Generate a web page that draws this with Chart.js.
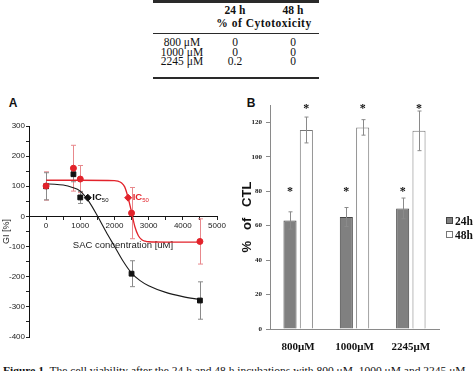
<!DOCTYPE html>
<html><head><meta charset="utf-8">
<script src="https://cdn.jsdelivr.net/npm/chart.js@4.4.1/dist/chart.umd.min.js"></script>
<style>
html,body{margin:0;padding:0;background:#fff;width:474px;height:371px;overflow:hidden;position:relative;}
.t{position:absolute;transform:translate(-50%,-50%);white-space:nowrap;line-height:1;font-family:"Liberation Serif","Times New Roman",serif;color:#111;font-size:11.5px;}
.b{font-weight:bold;}
.rule{position:absolute;background:#2a2a2a;}
.panel{position:absolute;font-family:"Liberation Sans",Arial,sans-serif;font-weight:bold;font-size:12px;line-height:1;transform:translate(-50%,-50%);color:#111;}
.leg{position:absolute;font-family:"Liberation Serif",serif;font-weight:bold;font-size:11.5px;line-height:1;color:#111;white-space:nowrap;}
.leg span{display:inline-block;width:5px;height:5px;border:1px solid #666;margin-right:2px;vertical-align:1px;}
#cap{position:absolute;left:3px;top:364.5px;font-family:"Liberation Serif",serif;font-size:11px;line-height:11px;white-space:nowrap;color:#111;transform-origin:0 0;}
canvas{position:absolute;}
</style></head><body>
<div class="rule" style="left:153px;top:0;width:166px;height:3px"></div>
<div class="rule" style="left:153px;top:33px;width:166px;height:1px"></div>
<div class="rule" style="left:153px;top:77px;width:166px;height:1.5px"></div>
<div id="table"></div>
<div class="panel" style="left:13px;top:103px">A</div>
<div class="panel" style="left:251px;top:103px">B</div>
<canvas id="cA" width="236" height="245" style="left:0;top:110px"></canvas>
<canvas id="cB" width="238" height="270" style="left:236px;top:92px"></canvas>
<div id="legend"></div>
<div id="cap"><b>Figure 1.</b> The cell viability after the 24 h and 48 h incubations with 800 μM, 1000 μM and 2245 μM</div>
<script>
// ---------- data ----------
const tableDoses = ['800 μM', '1000 μM', '2245 μM'];
const cytotox24 = ['0', '0', '0.2'];
const cytotox48 = ['0', '0', '0'];
const tableHeads = ['24 h', '48 h'];

const concA = [0, 800, 1000, 2500, 4500];
const giBlack = [100, 140, 63, -190, -279];
const giBlackErr = [45, 25, 20, 43, 62];
const giRed = [101, 160, 124, 11, -83];
const giRedErr = [47, 76, 45, 85, 75];
const fitBlackX = [0, 250, 500, 750, 1000, 1250, 1500, 1750, 2000, 2250, 2500, 2750, 3000, 3500, 4000, 4500];
const fitBlackY = [108, 107, 104, 97, 84, 50, 2, -50, -99, -148, -188, -213, -230, -252, -266, -276];
const fitRedX = [0, 1000, 2000, 2100, 2200, 2300, 2400, 2500, 2600, 2700, 2800, 2900, 3000, 3500, 4500];
const fitRedY = [120, 120, 119, 117, 112, 98, 62, 14, -35, -64, -77, -82, -84, -85, -85];
const ic50X = [1220, 2400];
const ic50Y = [62, 62];

const doseLabels = ['800μM', '1000μM', '2245μM'];
const via24 = [63, 65, 70];
const via24Err = [5, 5.5, 6];
const via48 = [115.5, 117, 115];
const via48Err = [7.5, 4.5, 11.5];
const sig24 = 81, sig48 = 129.5;

// ---------- table ----------
const RED = '#e2232b';
const tb = document.getElementById('table');
function txt(s, cx, cy, cls, extra) {
  const d = document.createElement('div');
  d.className = 't ' + (cls || '');
  d.style.left = cx + 'px'; d.style.top = cy + 'px';
  if (extra) d.style.cssText += extra;
  d.textContent = s; tb.appendChild(d);
}
txt(tableHeads[0], 235, 10.5, 'b');
txt(tableHeads[1], 293, 10.5, 'b');
txt('% of Cytotoxicity', 264, 24, 'b', 'letter-spacing:0.5px;');
const rowY = [43, 52.5, 62];
tableDoses.forEach((d, i) => {
  txt(d, 182, rowY[i]);
  txt(cytotox24[i], 235, rowY[i]);
  txt(cytotox48[i], 293, rowY[i]);
});

// ---------- legend B ----------
const lg = document.getElementById('legend');
[['24h', '#808080', '#444', 222], ['48h', '#fff', '#777', 236]].forEach(([t, bg, bc, cy]) => {
  const d = document.createElement('div');
  d.className = 'leg';
  d.style.left = '446px'; d.style.top = (cy - 6) + 'px';
  d.innerHTML = '<span style="background:' + bg + ';border-color:' + bc + '"></span>' + t;
  lg.appendChild(d);
});

// caption fit
const cap = document.getElementById('cap');
cap.style.transform = 'scaleX(' + (463 / cap.scrollWidth) + ')';

const xy = (xs, ys) => xs.map((x, i) => ({x, y: ys[i]}));
const NARROW = '"Liberation Sans Narrow","Liberation Sans",Arial,sans-serif';
const SANS = '"Liberation Sans",Arial,sans-serif';
const SERIF = '"Liberation Serif","Times New Roman",serif';

// ---------- plugins ----------
const errA = {
  id: 'errA',
  beforeDatasetsDraw(chart) {
    const {ctx, scales: {x, y}} = chart;
    chart.data.datasets.forEach(ds => {
      if (!ds.errs) return;
      ctx.save(); ctx.strokeStyle = ds.errColor; ctx.lineWidth = 1;
      ds.data.forEach((p, i) => {
        const px = Math.round(x.getPixelForValue(p.x)) + 0.5;
        const yt = y.getPixelForValue(p.y + ds.errs[i]);
        const yb = y.getPixelForValue(p.y - ds.errs[i]);
        ctx.beginPath();
        ctx.moveTo(px, yt); ctx.lineTo(px, yb);
        ctx.moveTo(px - 2.5, yt); ctx.lineTo(px + 2.5, yt);
        ctx.moveTo(px - 2.5, yb); ctx.lineTo(px + 2.5, yb);
        ctx.stroke();
      });
      ctx.restore();
    });
  },
  afterDatasetsDraw(chart) {
    const {ctx, scales: {x, y}} = chart;
    chart.data.datasets.forEach(ds => {
      if (!ds.icLabel) return;
      const p = ds.data[0];
      const px = x.getPixelForValue(p.x), py = y.getPixelForValue(p.y);
      ctx.save();
      ctx.fillStyle = ds.backgroundColor; ctx.textBaseline = 'middle';
      ctx.font = 'bold 9.5px ' + SANS;
      ctx.fillText('IC', px + 4.5, py);
      const w = ctx.measureText('IC').width;
      ctx.font = '6px ' + SANS;
      ctx.fillText('50', px + 4.5 + w, py + 3);
      ctx.restore();
    });
  }
};

const errB = {
  id: 'errB',
  afterDatasetsDraw(chart) {
    const {ctx, scales: {y}} = chart;
    chart.data.datasets.forEach((ds, di) => {
      const meta = chart.getDatasetMeta(di);
      ctx.save(); ctx.strokeStyle = '#8a8a8a'; ctx.lineWidth = 1;
      meta.data.forEach((bar, i) => {
        const px = Math.round(bar.x) + 0.5;
        const yt = y.getPixelForValue(ds.data[i] + ds.errs[i]);
        const yb = y.getPixelForValue(ds.data[i] - ds.errs[i]);
        ctx.beginPath();
        ctx.moveTo(px, yt); ctx.lineTo(px, yb);
        ctx.moveTo(px - 2, yt); ctx.lineTo(px + 2, yt);
        ctx.moveTo(px - 2, yb); ctx.lineTo(px + 2, yb);
        ctx.stroke();
        ctx.fillStyle = '#111';
        ctx.font = 'bold 12px ' + SERIF;
        ctx.textAlign = 'center'; ctx.textBaseline = 'alphabetic';
        ctx.fillText('*', bar.x, y.getPixelForValue(ds.sig) + 6);
      });
      ctx.restore();
    });
  }
};

// ---------- chart A ----------
new Chart(document.getElementById('cA'), {
  type: 'scatter',
  data: {datasets: [
    {label: 'IC50 a', data: [{x: ic50X[0], y: ic50Y[0]}], pointStyle: 'rectRot', pointRadius: 3.5, backgroundColor: '#111', borderColor: '#111', icLabel: true, order: 0},
    {label: 'IC50 b', data: [{x: ic50X[1], y: ic50Y[1]}], pointStyle: 'rectRot', pointRadius: 3.5, backgroundColor: RED, borderColor: RED, icLabel: true, order: 0},
    {label: 'red', data: xy(concA, giRed), pointStyle: 'circle', pointRadius: 3, backgroundColor: RED, borderColor: RED, errs: giRedErr, errColor: '#e8888c', order: 1},
    {label: 'black', data: xy(concA, giBlack), pointStyle: 'rect', pointRadius: 3.4, backgroundColor: '#111', borderColor: '#111', errs: giBlackErr, errColor: '#8a8a8a', order: 2},
    {label: 'fit red', data: xy(fitRedX, fitRedY), showLine: true, pointRadius: 0, borderColor: RED, borderWidth: 1.3, cubicInterpolationMode: 'monotone', order: 3},
    {label: 'fit black', data: xy(fitBlackX, fitBlackY), showLine: true, pointRadius: 0, borderColor: '#1a1a1a', borderWidth: 1.1, cubicInterpolationMode: 'monotone', order: 4}
  ]},
  options: {
    responsive: false, animation: false, devicePixelRatio: 1,
    layout: {padding: {left: 0, top: 16, right: 19, bottom: 18}},
    plugins: {legend: {display: false}, tooltip: {enabled: false}},
    scales: {
      x: {
        type: 'linear', position: {y: 0}, min: -500, max: 5000,
        ticks: {stepSize: 500, autoSkip: false, maxRotation: 0, padding: 2, color: '#222', font: {family: NARROW, size: 8},
          callback: v => (v >= 0 && v % 1000 === 0) ? String(v) : ''},
        grid: {drawOnChartArea: false, drawTicks: true, tickLength: 3, color: '#222'},
        border: {display: true, color: '#111', width: 1},
        title: {display: true, text: 'SAC concentration [uM]', color: '#222', font: {family: NARROW, size: 9.5}, padding: 0},
        afterFit: s => { s.height = 34.5; }
      },
      y: {
        type: 'linear', min: -400, max: 300,
        ticks: {stepSize: 50, autoSkip: false, padding: 1, color: '#222', font: {family: NARROW, size: 8},
          callback: v => (v % 100 === 0) ? String(v) : ''},
        grid: {drawOnChartArea: false, drawTicks: true, tickLength: 3, color: '#222'},
        border: {display: true, color: '#111', width: 1},
        title: {display: true, text: 'GI [%]', color: '#222', font: {family: SANS, size: 9}, padding: {top: 1, bottom: 0}},
        afterFit: s => { s.width = 29; }
      }
    }
  },
  plugins: [errA]
});

// ---------- chart B ----------
new Chart(document.getElementById('cB'), {
  type: 'bar',
  data: {labels: doseLabels, datasets: [
    {label: '24h', data: via24, errs: via24Err, sig: sig24, backgroundColor: '#808080', borderColor: '#454545', borderWidth: 1},
    {label: '48h', data: via48, errs: via48Err, sig: sig48, backgroundColor: '#ffffff', borderColor: '#777', borderWidth: 1}
  ]},
  options: {
    responsive: false, animation: false, devicePixelRatio: 1,
    layout: {padding: {left: 0, top: 13, right: 35, bottom: 0}},
    datasets: {bar: {categoryPercentage: 0.58, barPercentage: 0.8}},
    plugins: {legend: {display: false}, tooltip: {enabled: false}},
    scales: {
      x: {
        grid: {drawOnChartArea: false, drawTicks: false},
        border: {display: true, color: '#8a8a8a'},
        ticks: {padding: 12, color: '#111', font: {family: SERIF, size: 11, weight: 'bold'}},
        afterFit: s => { s.height = 33; }
      },
      y: {
        min: 0, max: 130,
        afterBuildTicks: s => { s.ticks = s.ticks.filter(t => t.value % 20 === 0); },
        ticks: {stepSize: 20, padding: 4, color: '#222', font: {family: SERIF, size: 7, weight: 'bold'}},
        grid: {drawOnChartArea: false, drawTicks: true, tickLength: 4, color: '#8a8a8a'},
        border: {display: true, color: '#8a8a8a'},
        title: {display: true, text: '%   of   CTL', color: '#111', font: {family: SANS, size: 13, weight: 'bold'}, padding: {top: 4, bottom: 0}},
        afterFit: s => { s.width = 34; }
      }
    }
  },
  plugins: [errB]
});
</script>
</body></html>
